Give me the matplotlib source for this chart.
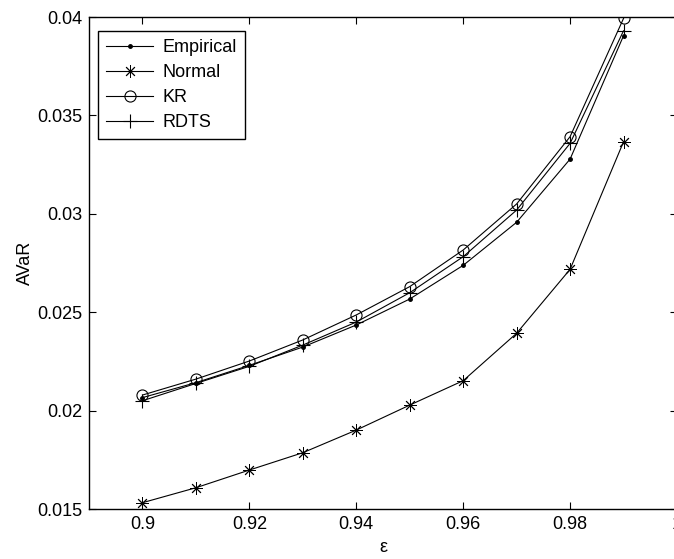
import matplotlib
matplotlib.use("Agg")
import matplotlib.pyplot as plt

eps = [0.90, 0.91, 0.92, 0.93, 0.94, 0.95, 0.96, 0.97, 0.98, 0.99]
empirical = [0.02066, 0.02142, 0.02230, 0.02323, 0.02435, 0.02567, 0.02738, 0.02957, 0.03278, 0.03905]
normal = [0.01532, 0.01608, 0.01698, 0.01786, 0.01901, 0.02028, 0.02152, 0.02393, 0.02718, 0.03366]
kr = [0.02079, 0.02160, 0.02252, 0.02359, 0.02486, 0.02630, 0.02816, 0.03050, 0.03392, 0.03993]
rdts = [0.02050, 0.02138, 0.02225, 0.02333, 0.02450, 0.02599, 0.02782, 0.03019, 0.03358, 0.03930]

xticks = [0.90, 0.92, 0.94, 0.96, 0.98, 1.00]
xticklabels = ["0.9", "0.92", "0.94", "0.96", "0.98", "1"]
yticks = [0.015, 0.020, 0.025, 0.030, 0.035, 0.040]
yticklabels = ["0.015", "0.02", "0.025", "0.03", "0.035", "0.04"]

plt.rcParams['font.family'] = ['Liberation Sans', 'DejaVu Sans']
plt.rcParams['font.size'] = 13

fig = plt.figure(figsize=(6.74, 5.59), dpi=100)
ax = fig.add_axes([89/674, 50/559, 588/674, 492/559])

lw = 0.8
ax.plot(eps, empirical, '-', color='k', lw=lw, marker='.', markersize=5, label='Empirical')
ax.plot(eps, normal, '-', color='k', lw=lw, marker=(8, 2, 0), markersize=9, markeredgewidth=0.65,
        label='Normal')
ax.plot(eps, kr, '-', color='k', lw=lw, marker='o', markersize=8, markeredgewidth=0.8,
        markerfacecolor='none', label='KR')
ax.plot(eps, rdts, '-', color='k', lw=lw, marker='+', markersize=10, markeredgewidth=0.8,
        label='RDTS')

ax.set_xlim(0.89, 1.0)
ax.set_ylim(0.015, 0.04)
ax.set_xticks(xticks)
ax.set_xticklabels(xticklabels)
ax.set_yticks(yticks)
ax.set_yticklabels(yticklabels)
ax.tick_params(direction='in', top=True, right=True, length=5, width=0.8, labelsize=13, pad=5)
for s in ax.spines.values():
    s.set_linewidth(1.0)

ax.set_xlabel('ε', fontsize=13, labelpad=4)
ax.set_ylabel('AVaR', fontsize=13, labelpad=2)

leg = ax.legend(loc='upper left', bbox_to_anchor=(0.0153, 0.972), borderaxespad=0,
                fancybox=False, framealpha=1, edgecolor='k', handlelength=2.6,
                labelspacing=0.45, handletextpad=0.5, borderpad=0.45, fontsize=13)
leg.get_frame().set_linewidth(1.0)

fig.savefig('out.png', dpi=100)
